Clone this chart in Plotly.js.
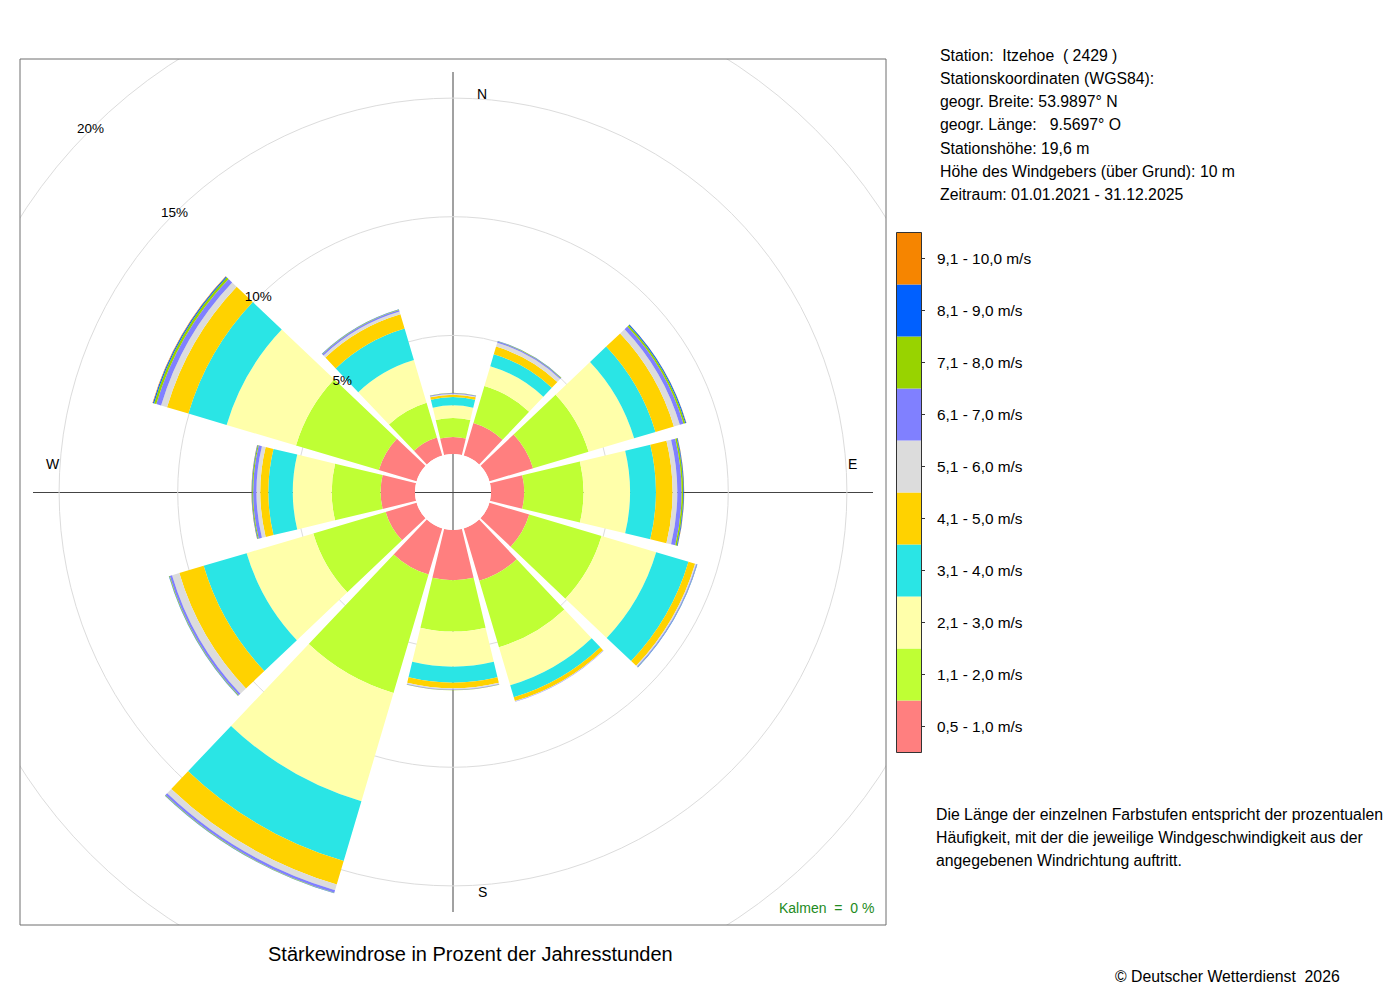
<!DOCTYPE html>
<html>
<head>
<meta charset="utf-8">
<script src="https://cdn.plot.ly/plotly-3.0.1.min.js"></script>
<style>
html,body{margin:0;padding:0;overflow:hidden;background:#fff;width:1400px;height:1000px}
#chart{position:absolute;left:-107px;top:-68px;width:1507px;height:1120px}
</style>
</head>
<body>
<div id="chart"></div>
<script>
// Wind directions (compass bearing, degrees)
const directions = [0, 30, 60, 90, 120, 150, 180, 210, 240, 270, 300, 330];

// Frequency (% of annual hours) per speed class, per direction
const v0510  = [0.72, 1.43, 1.92, 1.40, 1.75, 2.30, 2.12, 2.03, 1.36, 1.45, 1.66, 0.79];
const v1120  = [0.80, 1.63, 2.44, 2.50, 3.18, 2.92, 2.16, 5.20, 3.18, 2.06, 3.64, 1.53];
const v2130  = [0.53, 0.87, 2.00, 1.96, 2.40, 1.67, 1.48, 4.76, 2.93, 1.64, 3.05, 1.88];
const v3140  = [0.35, 0.52, 0.94, 1.09, 1.42, 0.53, 0.67, 2.63, 1.89, 1.03, 1.68, 1.38];
const v4150  = [0.10, 0.34, 0.81, 0.70, 0.29, 0.17, 0.24, 1.03, 1.07, 0.34, 0.94, 0.63];
const v5160  = [0.04, 0.17, 0.26, 0.20, 0.05, 0.02, 0.05, 0.25, 0.32, 0.16, 0.26, 0.12];
const v6170  = [0.03, 0.05, 0.16, 0.18, 0.03, 0.01, 0.02, 0.11, 0.10, 0.14, 0.21, 0.07];
const v7180  = [0.01, 0.02, 0.08, 0.07, 0.01, 0.00, 0.01, 0.02, 0.03, 0.04, 0.10, 0.02];
const v8190  = [0.00, 0.01, 0.04, 0.03, 0.01, 0.00, 0.00, 0.01, 0.01, 0.02, 0.05, 0.01];
const v91100 = [0.00, 0.00, 0.01, 0.01, 0.00, 0.00, 0.00, 0.00, 0.00, 0.01, 0.02, 0.00];

const speedLabels = ['0,5 - 1,0 m/s', '1,1 - 2,0 m/s', '2,1 - 3,0 m/s', '3,1 - 4,0 m/s', '4,1 - 5,0 m/s',
                     '5,1 - 6,0 m/s', '6,1 - 7,0 m/s', '7,1 - 8,0 m/s', '8,1 - 9,0 m/s', '9,1 - 10,0 m/s'];
const speedColors = ['#FF7F7F', '#BFFF34', '#FFFFAA', '#2AE5E5', '#FFD200',
                     '#DCDCDC', '#8080FF', '#98D300', '#0060FF', '#F68500'];

const radialTickVals = [5, 10, 15, 20];
const radialTickText = ['5%', '10%', '15%', '20%'];
const compassLabels = ['N', 'E', 'S', 'W'];

const infoLines = [
  'Station:\u00a0\u00a0Itzehoe\u00a0\u00a0( 2429 )',
  'Stationskoordinaten (WGS84):',
  'geogr. Breite: 53.9897° N',
  'geogr. Länge:\u00a0\u00a0\u00a09.5697° O',
  'Stationshöhe: 19,6 m',
  'Höhe des Windgebers (über Grund): 10 m',
  'Zeitraum: 01.01.2021 - 31.12.2025'
];
const noteLines = [
  'Die Länge der einzelnen Farbstufen entspricht der prozentualen',
  'Häufigkeit, mit der die jeweilige Windgeschwindigkeit aus der',
  'angegebenen Windrichtung auftritt.'
];
const chartTitle = 'Stärkewindrose in Prozent der Jahresstunden';
const calmText = 'Kalmen\u00a0\u00a0=\u00a0\u00a00 %';
const copyrightText = '© Deutscher Wetterdienst\u00a0\u00a02026';

const seriesList = [v0510, v1120, v2130, v3140, v4150, v5160, v6170, v7180, v8190, v91100];

// ---- geometry (page pixels -> paper coords of the oversized div) ----
const W = 1507, H = 1120, OX = 107, OY = 68;
const X = px => (px + OX) / W;
const Y = py => 1 - (py + OY) / H;
const CX = 453, CY = 492, R = 560, HOLE = 38;
const FONT = '"Liberation Sans", Arial, Helvetica, sans-serif';

const traces = seriesList.map((vals, i) => ({
  type: 'barpolar',
  r: vals,
  theta: directions,
  width: 27,
  name: speedLabels[i],
  marker: {color: speedColors[i], line: {width: 0}},
  hoverinfo: 'skip',
  showlegend: false
}));

traces.push({
  type: 'scatterpolar',
  mode: 'text',
  r: radialTickVals,
  theta: radialTickVals.map(() => 315),
  text: radialTickText,
  textposition: 'middle center',
  textfont: {family: FONT, size: 13.5, color: '#000'},
  cliponaxis: false,
  hoverinfo: 'skip',
  showlegend: false
});

const shapes = [];
// cross lines under the bars
shapes.push({type: 'line', layer: 'below', xref: 'paper', yref: 'paper',
  x0: X(453), x1: X(453), y0: Y(72), y1: Y(912), line: {color: '#444', width: 1}});
shapes.push({type: 'line', layer: 'below', xref: 'paper', yref: 'paper',
  x0: X(33), x1: X(873), y0: Y(492.5), y1: Y(492.5), line: {color: '#444', width: 1}});
// white masks outside the plot frame
const mask = (x0, y0, x1, y1) => ({type: 'rect', layer: 'above', xref: 'paper', yref: 'paper',
  x0: X(x0), x1: X(x1), y0: Y(y1), y1: Y(y0), fillcolor: '#ffffff', line: {width: 0}});
shapes.push(mask(-107, -68, 1400, 59));
shapes.push(mask(-107, 925, 1400, 1052));
shapes.push(mask(-107, -68, 20, 1052));
shapes.push(mask(886, -68, 1400, 1052));
// plot frame
shapes.push({type: 'rect', layer: 'above', xref: 'paper', yref: 'paper',
  x0: X(20), x1: X(886), y0: Y(925), y1: Y(59), fillcolor: 'rgba(0,0,0,0)',
  line: {color: '#6e6e6e', width: 1}});

// colour key
const keyTop = 232.5, keyH = 52, keyX0 = 896.5, keyX1 = 921.5;
const annotations = [];
speedLabels.forEach((lab, i) => {
  const top = keyTop + (speedLabels.length - 1 - i) * keyH;
  shapes.push({type: 'rect', layer: 'above', xref: 'paper', yref: 'paper',
    x0: X(keyX0), x1: X(keyX1), y0: Y(top + keyH), y1: Y(top),
    fillcolor: speedColors[i], line: {width: 0}});
  shapes.push({type: 'line', layer: 'above', xref: 'paper', yref: 'paper',
    x0: X(keyX1), x1: X(keyX1 + 3.5), y0: Y(top + keyH / 2), y1: Y(top + keyH / 2),
    line: {color: '#333', width: 1}});
  annotations.push({xref: 'paper', yref: 'paper', x: X(935), y: Y(top + keyH / 2),
    xanchor: 'left', yanchor: 'middle', showarrow: false, text: lab,
    font: {family: FONT, size: 15.4, color: '#000'}});
});
shapes.push({type: 'rect', layer: 'above', xref: 'paper', yref: 'paper',
  x0: X(keyX0), x1: X(keyX1), y0: Y(keyTop + keyH * speedLabels.length), y1: Y(keyTop),
  fillcolor: 'rgba(0,0,0,0)', line: {color: '#333', width: 1}});

// compass labels
const compassPos = [[482, 94], [852, 464], [482, 892], [53, 464]];
compassLabels.forEach((t, i) => {
  annotations.push({xref: 'paper', yref: 'paper', x: X(compassPos[i][0]), y: Y(compassPos[i][1]),
    xanchor: 'center', yanchor: 'middle', showarrow: false, text: t,
    font: {family: FONT, size: 14, color: '#000'}});
});

// station info
infoLines.forEach((t, i) => {
  annotations.push({xref: 'paper', yref: 'paper', x: X(938), y: Y(55.7 + i * 23.1),
    xanchor: 'left', yanchor: 'middle', showarrow: false, text: t,
    font: {family: FONT, size: 15.8, color: '#000'}});
});
// note
noteLines.forEach((t, i) => {
  annotations.push({xref: 'paper', yref: 'paper', x: X(934), y: Y(814 + i * 23),
    xanchor: 'left', yanchor: 'middle', showarrow: false, text: t,
    font: {family: FONT, size: 15.8, color: '#000'}});
});
annotations.push({xref: 'paper', yref: 'paper', x: X(470), y: Y(954),
  xanchor: 'center', yanchor: 'middle', showarrow: false, text: chartTitle,
  font: {family: FONT, size: 20, color: '#000'}});
annotations.push({xref: 'paper', yref: 'paper', x: X(876), y: Y(908),
  xanchor: 'right', yanchor: 'middle', showarrow: false, text: calmText,
  font: {family: FONT, size: 14, color: '#228B22'}});
annotations.push({xref: 'paper', yref: 'paper', x: X(1342), y: Y(976),
  xanchor: 'right', yanchor: 'middle', showarrow: false, text: copyrightText,
  font: {family: FONT, size: 15.8, color: '#000'}});

const layout = {
  width: W, height: H, autosize: false,
  margin: {l: 0, r: 0, t: 0, b: 0, pad: 0},
  paper_bgcolor: '#ffffff',
  showlegend: false,
  font: {family: FONT, color: '#000'},
  polar: {
    domain: {x: [X(CX - R), X(CX + R)], y: [Y(CY + R), Y(CY - R)]},
    hole: HOLE / R,
    bgcolor: 'rgba(0,0,0,0)',
    barmode: 'stack',
    angularaxis: {rotation: 90, direction: 'clockwise', showgrid: false, showline: false,
                  showticklabels: false, ticks: ''},
    radialaxis: {range: [0, 22], tickvals: radialTickVals, showticklabels: false, showline: false,
                 ticks: '', gridcolor: '#dcdcdc', gridwidth: 1}
  },
  shapes: shapes,
  annotations: annotations
};

Plotly.newPlot('chart', traces, layout, {staticPlot: true, displayModeBar: false});
</script>
</body>
</html>
